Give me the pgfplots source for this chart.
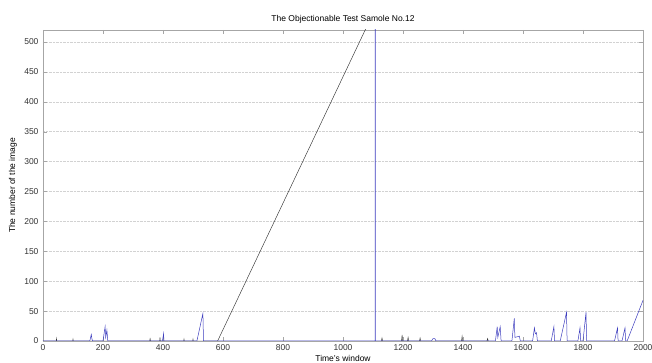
\documentclass[border=0pt]{standalone}
\usepackage{pgfplots}
\pgfplotsset{compat=1.18}
\usepackage{fontspec}
\setmainfont{Liberation Sans}
\definecolor{mblue}{RGB}{60,60,190}
\definecolor{mblack}{RGB}{50,50,50}
\begin{document}
\begin{tikzpicture}
\begin{axis}[
  scale only axis,
  width=600pt, height=311pt,
  xmin=0, xmax=2000, ymin=0, ymax=520,
  xtick={0,200,...,2000}, ytick={0,50,...,500},
  tick align=inside, tick pos=both,
  major tick length=4pt,
  ymajorgrids,
  grid style={densely dotted, gray!35, line width=0.4pt},
  axis line style={gray!70, line width=0.5pt},
  tick style={gray!70},
  /pgf/number format/assume math mode=true,
  /pgf/number format/1000 sep={},
  tick label style={font=\fontsize{8.5}{10}\selectfont, text=black!80},
  xticklabel style={anchor=center, yshift=-7pt},
  yticklabel style={anchor=east, xshift=-1pt},
  every axis title shift=0pt,
  title={The Objectionable Test Samole No.12},
  title style={at={(axis description cs:0.5,1)}, anchor=center, yshift=11pt, font=\fontsize{8.5}{10}\selectfont},
  xlabel={Time's window},
  xlabel style={at={(axis description cs:0.5,0)}, anchor=center, yshift=-17pt, font=\fontsize{8.5}{10}\selectfont},
  ylabel={The number of the image},
  ylabel style={at={(axis description cs:0,0.5)}, anchor=center, yshift=30pt, font=\fontsize{8.5}{10}\selectfont},
  clip=true,
]
% black series: near-zero with small spikes, then diagonal
\addplot[mblack, line width=0.45pt] coordinates {
 (0,0) (44,0) (45,4) (46,0) (99,0) (100,3) (101,0) (356,0) (357,5) (358,0)
 (389,0) (390,6) (391,0) (469,0) (470,3) (471,0) (499,0) (500,3) (501,0)
 (582,0) (1090,537)
};
\addplot[mblack, line width=0.45pt] coordinates {
 (1128,0) (1130,5) (1132,0) (1195,0) (1197,10) (1199,0) (1215,0) (1217,6) (1219,0)
 (1255,0) (1257,5) (1259,0) (1395,0) (1397,8) (1399,0) (1480,0) (1482,4) (1484,0)
};
% blue series
\addplot[mblue, line width=0.5pt] coordinates {
 (0,0) (156,0) (161,11) (163,4) (165,0) (200,0) (207,24) (209,6) (213,18) (216,0)
 (398,0) (402,12) (403,0) (513,0) (533,46) (535,0) (540,0)
 (1106,0) (1107,0) (1107,600) (1108,600) (1108,0)
 (1295,0) (1300,4) (1306,4) (1310,0)
 (1508,0) (1514,24) (1516,6) (1524,24) (1527,0)
 (1563,0) (1571,38) (1573,6) (1588,8) (1591,0)
 (1632,0) (1638,22) (1641,12) (1645,14) (1648,0)
 (1694,0) (1703,24) (1705,0)
 (1724,0) (1745,48) (1747,0)
 (1783,0) (1790,22) (1792,0) (1800,0) (1810,48) (1812,0)
 (1905,0) (1915,22) (1917,0) (1930,0) (1940,22) (1942,0) (1947,0) (2000,68)
};
\end{axis}
\pgfresetboundingbox
\path[use as bounding box] ([xshift=-43pt,yshift=-22pt]current axis.south west) rectangle ([xshift=9pt,yshift=30pt]current axis.north east);
\end{tikzpicture}
\end{document}
